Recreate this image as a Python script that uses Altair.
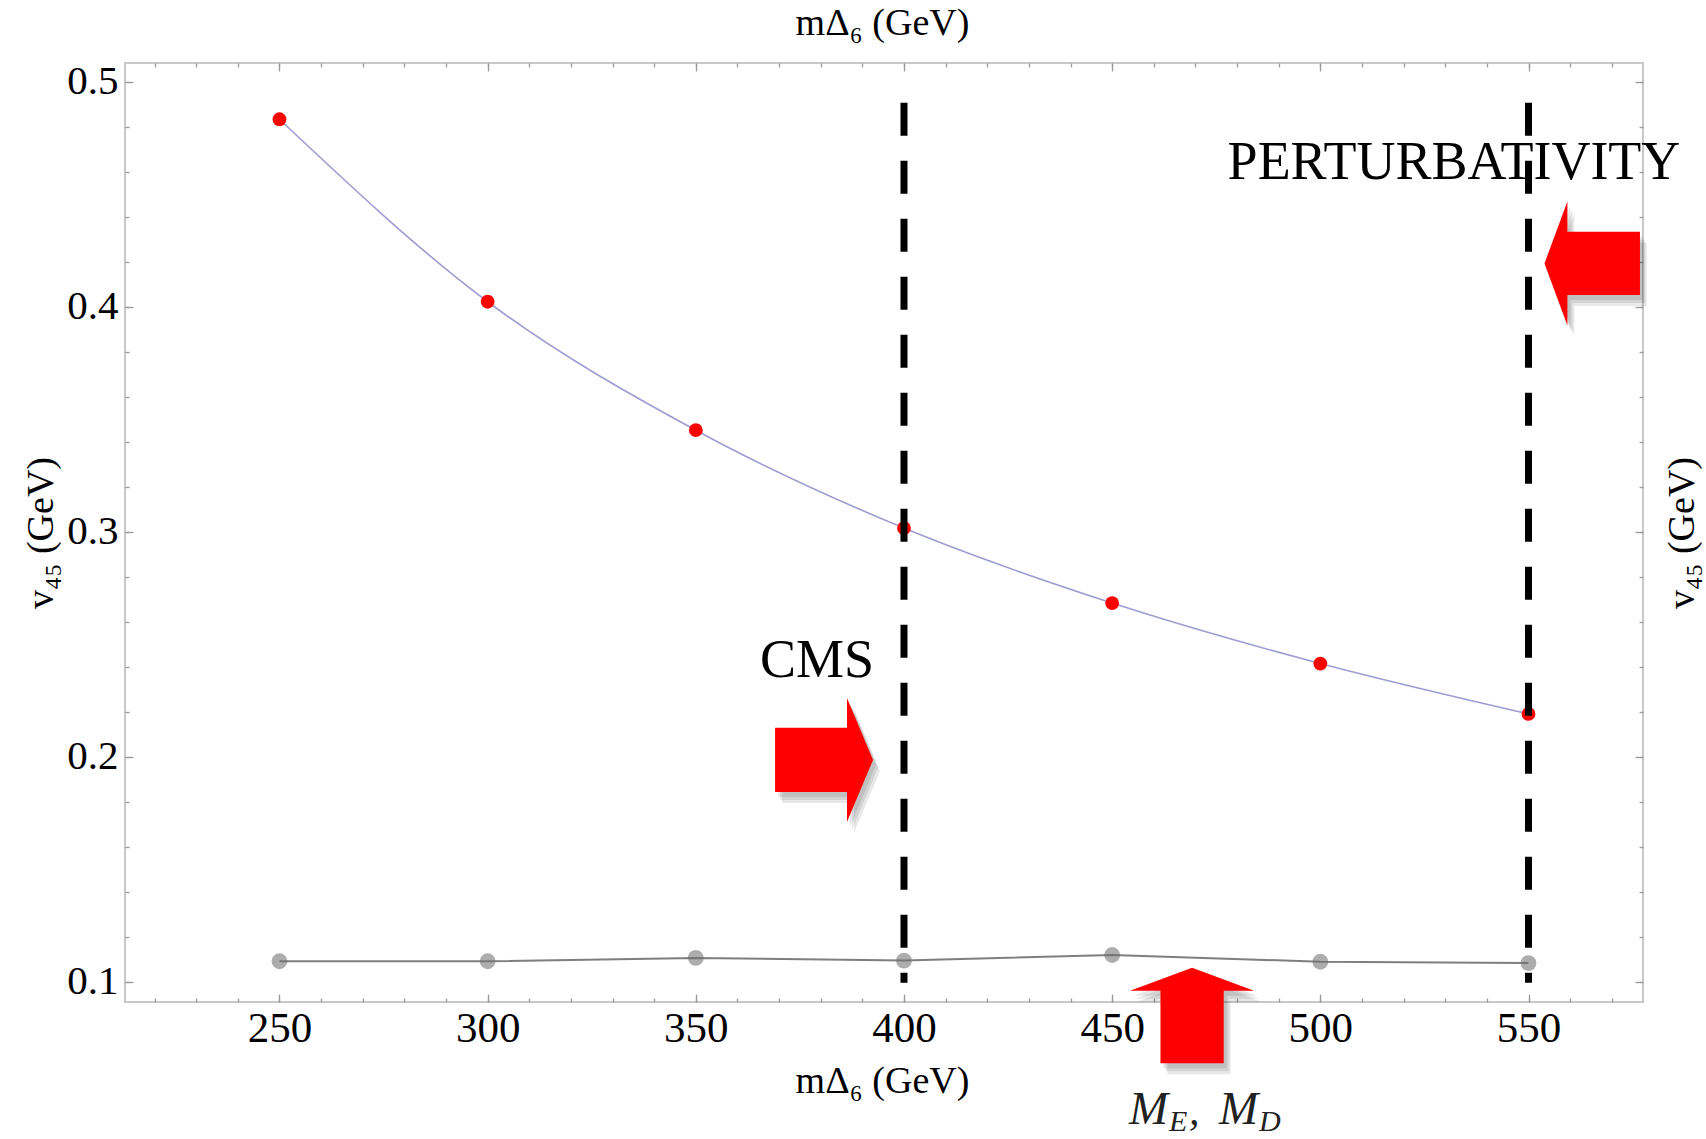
import altair as alt
import pandas as pd

# ---------------- data ----------------
masses = [250, 300, 350, 400, 450, 500, 550]
v45_red = [0.4834, 0.4023, 0.3452, 0.3017, 0.2684, 0.2415, 0.2191]
v45_gray = [0.1092, 0.1092, 0.1107, 0.1095, 0.1120, 0.1090, 0.1084]

x_major = [250, 300, 350, 400, 450, 500, 550]
x_minor = [220, 230, 240, 250, 260, 270, 280, 290, 300, 310, 320, 330, 340, 350,
           360, 370, 380, 390, 400, 410, 420, 430, 440, 450, 460, 470, 480, 490,
           500, 510, 520, 530, 540, 550, 560, 570]
y_major = [0.1, 0.2, 0.3, 0.4, 0.5]
y_minor = [0.10, 0.12, 0.14, 0.16, 0.18, 0.20, 0.22, 0.24, 0.26, 0.28, 0.30,
           0.32, 0.34, 0.36, 0.38, 0.40, 0.42, 0.44, 0.46, 0.48, 0.50]

limit_masses = [400, 550]
limit_top = [0.4907, 0.4907]
limit_bottom = [0.0996, 0.0996]

label_text = ["CMS", "PERTURBATIVITY"]
label_m = [379.1, 532.1]
label_v = [0.2356, 0.4567]

arrow_names = ["CMS", "PERTURBATIVITY", "ME_MD"]
arrow_m = [380.8, 565.3, 469.2]
arrow_v = [0.1987, 0.4193, 0.0851]

mlabel_m = [470.6]
mlabel_v = [0.0371]

x_title = "mΔ₆ (GeV)"
y_title = "v₄₅ (GeV)"

# ---------------- styling ----------------
FONT = "Liberation Serif"
X_DOMAIN = [212.9, 577.5]
Y_DOMAIN = [0.0911, 0.5084]
W, H = 1518, 939
TICK_COLOR = "#9a9a9a"

xscale = alt.Scale(domain=X_DOMAIN, nice=False, zero=False)
yscale = alt.Scale(domain=Y_DOMAIN, nice=False, zero=False)

def tick_axis(orient, values, size):
    return alt.Axis(orient=orient, values=values, ticks=True, tickSize=size,
                    offset=-size, tickColor=TICK_COLOR, tickWidth=1.3,
                    labels=False, domain=False, grid=False, title=None)

ax_bottom = alt.Axis(orient="bottom", values=x_major, format="d", ticks=False,
                     domain=False, grid=False, labelFont=FONT, labelFontSize=43,
                     labelColor="black", labelPadding=5, title=x_title,
                     titleFont=FONT, titleFontSize=38, titleFontWeight="normal",
                     titleColor="black", titleX=757, titleY=90,
                     titleBaseline="alphabetic")
ax_top = alt.Axis(orient="top", values=x_major, ticks=False, labels=False,
                  domain=False, grid=False, title=x_title, titleFont=FONT,
                  titleFontSize=38, titleFontWeight="normal", titleColor="black",
                  titleX=757, titleY=-29, titleBaseline="alphabetic")
ax_left = alt.Axis(orient="left", values=y_major, format=".1f", ticks=False,
                   domain=False, grid=False, labelFont=FONT, labelFontSize=41,
                   labelColor="black", labelPadding=7, title=y_title,
                   titleFont=FONT, titleFontSize=38, titleFontWeight="normal",
                   titleColor="black", titleAngle=270, titleX=-73, titleY=469.5,
                   titleBaseline="alphabetic", titleAlign="center")
ax_right = alt.Axis(orient="right", values=y_major, ticks=False, labels=False,
                    domain=False, grid=False, title=y_title, titleFont=FONT,
                    titleFontSize=38, titleFontWeight="normal", titleColor="black",
                    titleAngle=270, titleX=50, titleY=469.5,
                    titleBaseline="alphabetic", titleAlign="center")

def enc(chart, xaxis=None, yaxis=None):
    return chart.encode(
        x=alt.X("m:Q", scale=xscale, axis=xaxis),
        y=alt.Y("v:Q", scale=yscale, axis=yaxis),
    )

red_df = pd.DataFrame({"m": masses, "v": v45_red})
gray_df = pd.DataFrame({"m": masses, "v": v45_gray})
lim_df = pd.DataFrame({"m": limit_masses, "v": limit_top, "v2": limit_bottom})
lab_df = pd.DataFrame({"m": label_m, "v": label_v, "t": label_text})
arr_df = pd.DataFrame({"m": arrow_m, "v": arrow_v, "name": arrow_names})
ml_df = pd.DataFrame({"m": mlabel_m, "v": mlabel_v})

blue_line = enc(alt.Chart(red_df).mark_line(color="#9d9dd2", strokeWidth=1.6,
                                             interpolate="monotone"),
                ax_bottom, ax_left)
gray_pts = enc(alt.Chart(gray_df).mark_point(filled=True, color="#a9a9a9",
                                              opacity=0.95, size=250, strokeWidth=0),
               ax_top, ax_right)
gray_line = enc(alt.Chart(gray_df).mark_line(color="#707070", strokeWidth=2,
                                              opacity=0.9),
                tick_axis("bottom", x_major, 8), tick_axis("left", y_major, 8))
red_pts = enc(alt.Chart(red_df).mark_point(filled=True, color="#ff0000",
                                            opacity=1, size=190, strokeWidth=0),
              tick_axis("bottom", x_minor, 4), tick_axis("left", y_minor, 4))

rules = alt.Chart(lim_df).mark_rule(color="black", strokeWidth=7,
                                    strokeDash=[33, 25]).encode(
    x=alt.X("m:Q", scale=xscale, axis=tick_axis("top", x_major, 8)),
    y=alt.Y("v:Q", scale=yscale, axis=tick_axis("right", y_major, 8)),
    y2="v2:Q",
)

labels = enc(alt.Chart(lab_df).mark_text(font=FONT, fontSize=54, align="center",
                                          baseline="alphabetic", color="black"),
             tick_axis("top", x_minor, 4), tick_axis("right", y_minor, 4)
             ).encode(text="t:N")

PATH_RIGHT = "M-0.79,-0.52 L0.37,-0.52 L0.37,-1 L0.79,0 L0.37,1 L0.37,0.52 L-0.79,0.52 Z"
PATH_LEFT = "M0.77,-0.51 L-0.4,-0.51 L-0.4,-1 L-0.77,0 L-0.4,1 L-0.4,0.51 L0.77,0.51 Z"
PATH_UP = "M-0.51,0.77 L-0.51,-0.4 L-1,-0.4 L0,-0.77 L1,-0.4 L0.51,-0.4 L0.51,0.77 Z"
ARROW_SIZE = 15376
shapes = {"CMS": PATH_RIGHT, "PERTURBATIVITY": PATH_LEFT, "ME_MD": PATH_UP}

arrow_layers = []
for name, path in shapes.items():
    base = alt.Chart(arr_df).transform_filter(alt.datum.name == name)
    for dxo, dyo in [(3, 5), (5, 8), (7, 11)]:
        arrow_layers.append(enc(base.mark_point(shape=path, filled=True, color="#000000",
                                                opacity=0.09, size=ARROW_SIZE,
                                                strokeWidth=0, xOffset=dxo, yOffset=dyo)))
    arrow_layers.append(enc(base.mark_point(shape=path, filled=True, color="#ff0000",
                                            opacity=1, size=ARROW_SIZE, strokeWidth=0)))

math_parts = []
for txt, dxp, dyp, fs in [("M", -69, 0, 47), ("E", -29, 7, 30), (",", -9, 0, 42),
                          ("M", 21, 0, 47), ("D", 61, 7, 30)]:
    math_parts.append(enc(alt.Chart(ml_df).mark_text(
        text=txt, font=FONT, fontStyle="italic", fontSize=fs, align="left",
        baseline="alphabetic", color="#222222", dx=dxp, dy=dyp)))

chart = alt.layer(
    blue_line, gray_pts, gray_line, red_pts, rules, labels,
    *arrow_layers, *math_parts
).resolve_scale(x="shared", y="shared").resolve_axis(
    x="independent", y="independent"
).properties(
    width=W, height=H,
    autosize=alt.AutoSizeParams(type="none"),
    padding={"left": 125, "top": 63, "right": 63, "bottom": 137},
    background="white",
).configure_view(stroke="#c8c8c8", strokeWidth=2)

chart.save("out.html", embed_options={"renderer": "svg", "actions": False})
